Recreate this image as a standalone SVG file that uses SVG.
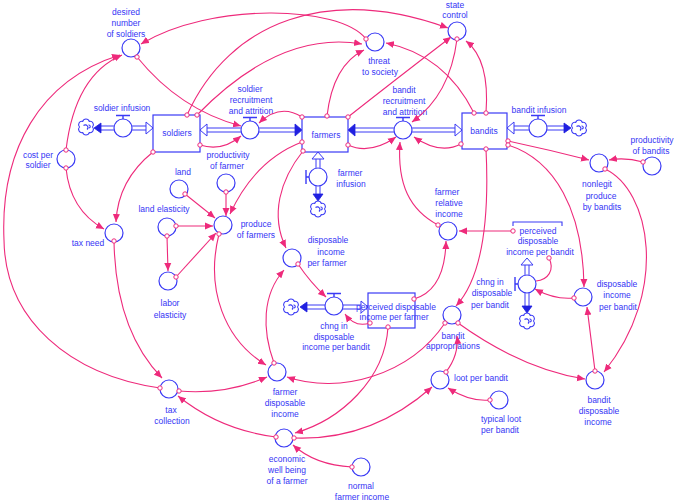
<svg xmlns="http://www.w3.org/2000/svg" width="675" height="501" viewBox="0 0 675 501">
<defs>
<style>
.t{font-family:"Liberation Sans",Arial,sans-serif;font-size:8.5px;fill:#3535f5;text-anchor:middle}
.tl{text-anchor:start}
.aux{fill:#fff;stroke:#3a3af5;stroke-width:1.2}
.stock{fill:#fff;stroke:#3a3af5;stroke-width:1.2}
.pipe{fill:none;stroke:#3a3af5;stroke-width:1}
.ln{fill:none;stroke:#ee2a7b;stroke-width:1.1;marker-start:url(#tail);marker-end:url(#head)}
.ln2{fill:none;stroke:#ee2a7b;stroke-width:1.1;marker-start:url(#tail)}
.fa{fill:#2020e0;stroke:#2020e0;stroke-width:0.8}
.ha{fill:#fff;stroke:#3a3af5;stroke-width:1}
.cl{fill:#fff;stroke:#3a3af5;stroke-width:1.1}
.hd{fill:none;stroke:#3a3af5;stroke-width:1.4}
</style>
<marker id="head" markerUnits="userSpaceOnUse" markerWidth="10" markerHeight="8" refX="8" refY="4" orient="auto"><path d="M0,0.5 L8,4 L0,7.5z" fill="#ee2a7b"/></marker>
<marker id="tail" markerUnits="userSpaceOnUse" markerWidth="7" markerHeight="7" refX="3.5" refY="3.5"><circle cx="3.5" cy="3.5" r="2.2" fill="#fff" stroke="#ee2a7b" stroke-width="1"/></marker>
<g id="cloud"><path class="cl" d="M6.5,0 A3.4,3.4 0 0 1 3.25,5.63 A3.4,3.4 0 0 1 -3.25,5.63 A3.4,3.4 0 0 1 -6.5,0 A3.4,3.4 0 0 1 -3.25,-5.63 A3.4,3.4 0 0 1 3.25,-5.63 A3.4,3.4 0 0 1 6.5,0Z"/><path class="cl" d="M-2.5,-1.5 A2.5,2.5 0 1 1 1,2.5 M2.5,-2 A1.5,1.5 0 0 1 3,1" fill="none"/></g>
</defs>

<g id="flows">
<use href="#cloud" x="86" y="127"/>
<path class="pipe" d="M101,126 H114 M101,130 H114 M132,126 H146 M132,130 H146"/>
<polygon class="fa" points="94,128 101,123 101,133"/>
<polygon class="ha" points="153,128 146,122 146,134"/>
<path class="pipe" d="M207,128 H241 M207,132 H241 M259,128 H295 M259,132 H295"/>
<polygon class="ha" points="200,130 207,124 207,136"/>
<polygon class="fa" points="302,130 295,124 295,136"/>
<path class="pipe" d="M355,128 H394 M355,132 H394 M412,128 H455 M412,132 H455"/>
<polygon class="fa" points="348,130 355,124 355,136"/>
<polygon class="ha" points="462,130 455,124 455,136"/>
<path class="pipe" d="M514,126 H529 M514,130 H529 M547,126 H564 M547,130 H564"/>
<polygon class="ha" points="507,128 514,122 514,134"/>
<polygon class="fa" points="571,128 564,123 564,133"/>
<use href="#cloud" x="579" y="128"/>
<path class="pipe" d="M316,159 V168 M320,159 V168 M316,186 V194 M320,186 V194"/>
<polygon class="ha" points="318,152 312,159 324,159"/>
<polygon class="fa" points="318,201 313,194 323,194"/>
<use href="#cloud" x="318" y="209"/>
<use href="#cloud" x="291" y="307"/>
<path class="pipe" d="M307,305 H325 M307,309 H325 M343,305 H361 M343,309 H361"/>
<polygon class="fa" points="300,307 307,302 307,312"/>
<polygon class="ha" points="368,307 361,301 361,313"/>
<path class="pipe" d="M525,265 V275 M529,265 V275 M525,293 V306 M529,293 V306"/>
<polygon class="ha" points="527,258 521,265 533,265"/>
<polygon class="fa" points="527,313 522,306 532,306"/>
<use href="#cloud" x="527" y="321"/>
</g>

<g id="desired_number_of_soldiers"><circle class="aux" cx="131" cy="48" r="9"/><text class="t" x="126" y="15">desired</text><text class="t" x="126" y="26">number</text><text class="t" x="126" y="37">of soldiers</text></g>
<g id="threat_to_society"><circle class="aux" cx="375" cy="42" r="9"/><text class="t" x="379" y="64">threat</text><text class="t" x="380" y="75">to society</text></g>
<g id="state_control"><circle class="aux" cx="457" cy="31" r="9"/><text class="t" x="455" y="8">state</text><text class="t" x="455" y="18">control</text></g>
<g id="soldier_infusion"><circle class="aux" cx="123" cy="128" r="9"/><path class="hd" d="M116,115.5 H130 M123,115.5 V119"/><text class="t" x="122" y="111">soldier infusion</text></g>
<g id="soldiers"><rect class="stock" x="153" y="115" width="47" height="37"/><text class="t" x="177" y="136">soldiers</text></g>
<g id="soldier_recruitment_and_attrition"><circle class="aux" cx="250" cy="130" r="9"/><path class="hd" d="M243,117.5 H257 M250,117.5 V121"/><text class="t" x="250" y="92">soldier</text><text class="t" x="251" y="103">recruitment</text><text class="t" x="251" y="114">and attrition</text></g>
<g id="farmers"><rect class="stock" x="302" y="117" width="46" height="35"/><text class="t" x="326" y="138">farmers</text></g>
<g id="bandit_recruitment_and_attrition"><circle class="aux" cx="403" cy="130" r="9"/><path class="hd" d="M396,117.5 H410 M403,117.5 V121"/><text class="t" x="404" y="93">bandit</text><text class="t" x="404" y="104">recruitment</text><text class="t" x="405" y="115">and attrition</text></g>
<g id="bandits"><rect class="stock" x="462" y="113" width="45" height="36"/><text class="t" x="484" y="134">bandits</text></g>
<g id="bandit_infusion"><circle class="aux" cx="538" cy="128" r="9"/><path class="hd" d="M531,115.5 H545 M538,115.5 V119"/><text class="t" x="539" y="113">bandit infusion</text></g>
<g id="farmer_infusion"><circle class="aux" cx="318" cy="177" r="9"/><path class="hd" d="M306,170 V184 M306,177 H309"/><text class="t" x="350" y="176">farmer</text><text class="t" x="351" y="187">infusion</text></g>
<g id="cost_per_soldier"><circle class="aux" cx="66" cy="159" r="9"/><text class="t" x="38" y="158">cost per</text><text class="t" x="38" y="168">soldier</text></g>
<g id="productivity_of_farmer"><circle class="aux" cx="226" cy="183" r="9"/><text class="t" x="228" y="158">productivity</text><text class="t" x="227" y="169">of farmer</text></g>
<g id="land"><circle class="aux" cx="179" cy="189" r="9"/><text class="t" x="183" y="175">land</text></g>
<g id="land_elasticity"><circle class="aux" cx="167" cy="227" r="9"/><text class="t" x="164" y="212">land elasticity</text></g>
<g id="produce_of_farmers"><circle class="aux" cx="223" cy="225" r="9"/><text class="t" x="256" y="227">produce</text><text class="t" x="256" y="238">of farmers</text></g>
<g id="labor_elasticity"><circle class="aux" cx="168" cy="281" r="9"/><text class="t" x="170" y="306">labor</text><text class="t" x="170" y="318">elasticity</text></g>
<g id="tax_need"><circle class="aux" cx="114" cy="233" r="9"/><text class="t" x="88" y="246">tax need</text></g>
<g id="disposable_income_per_farmer"><circle class="aux" cx="292" cy="258" r="9"/><text class="t" x="328" y="243">disposable</text><text class="t" x="331" y="255">income</text><text class="t" x="327" y="266">per farmer</text></g>
<g id="chng_in_disposable_income_per_bandit"><circle class="aux" cx="334" cy="306" r="9"/><path class="hd" d="M327,293.5 H341 M334,293.5 V297"/><text class="t" x="334" y="329">chng in</text><text class="t" x="334" y="340">disposable</text><text class="t" x="336" y="350">income per bandit</text></g>
<g id="perceived_disposable_income_per_farmer"><rect class="stock" x="368" y="293" width="47" height="35"/><text class="t" x="396" y="310">perceived disposable</text><text class="t" x="394" y="320">income per farmer</text></g>
<g id="farmer_relative_income"><circle class="aux" cx="448" cy="231" r="9"/><text class="t" x="447" y="195">farmer</text><text class="t" x="449" y="206">relative</text><text class="t" x="449" y="217">income</text></g>
<g id="perceived_disposable_income_per_bandit"><path class="hd" style="stroke-width:1.1" d="M513,226 V222 H562 V226"/><text class="t" x="538" y="234">perceived</text><text class="t" x="538" y="244">disposable</text><text class="t" x="540" y="255">income per bandit</text></g>
<g id="chng_in_disposable_per_bandit"><circle class="aux" cx="527" cy="284" r="9"/><path class="hd" d="M515,277 V291 M515,284 H518"/><text class="t" x="490" y="285">chng in</text><text class="t" x="492" y="296">disposable</text><text class="t" x="490" y="308">per bandit</text></g>
<g id="disposable_income_per_bandit"><circle class="aux" cx="583" cy="297" r="9"/><text class="t" x="617" y="287">disposable</text><text class="t" x="617" y="298">income</text><text class="t" x="618" y="310">per bandit</text></g>
<g id="nonlegit_produce_by_bandits"><circle class="aux" cx="599" cy="163" r="9"/><text class="t" x="597" y="187">nonlegit</text><text class="t" x="601" y="199">produce</text><text class="t" x="602" y="210">by bandits</text></g>
<g id="productivity_of_bandits"><circle class="aux" cx="652" cy="166" r="9"/><text class="t" x="652" y="143">productivity</text><text class="t" x="651" y="154">of bandits</text></g>
<g id="bandit_appropriations"><circle class="aux" cx="452" cy="315" r="9"/><text class="t" x="453" y="339">bandit</text><text class="t" x="453" y="349">appropriations</text></g>
<g id="loot_per_bandit"><circle class="aux" cx="440" cy="380" r="9"/><text class="t tl" x="454" y="381">loot per bandit</text></g>
<g id="typical_loot_per_bandit"><circle class="aux" cx="499" cy="400" r="9"/><text class="t" x="501" y="422">typical loot</text><text class="t" x="500" y="433">per bandit</text></g>
<g id="bandit_disposable_income"><circle class="aux" cx="595" cy="380" r="9"/><text class="t" x="599" y="403">bandit</text><text class="t" x="599" y="414">disposable</text><text class="t" x="598" y="425">income</text></g>
<g id="normal_farmer_income"><circle class="aux" cx="361" cy="467" r="9"/><text class="t" x="361" y="489">normal</text><text class="t" x="362" y="500">farmer income</text></g>
<g id="tax_collection"><circle class="aux" cx="169" cy="389" r="9"/><text class="t" x="171" y="413">tax</text><text class="t" x="172" y="424">collection</text></g>
<g id="farmer_disposable_income"><circle class="aux" cx="277" cy="372" r="9"/><text class="t" x="285" y="395">farmer</text><text class="t" x="285" y="406">disposable</text><text class="t" x="285" y="417">income</text></g>
<g id="economic_well_being_of_a_farmer"><circle class="aux" cx="284" cy="438" r="9"/><text class="t" x="287" y="462">economic</text><text class="t" x="287" y="473">well being</text><text class="t" x="287" y="484">of a farmer</text></g>

<g id="connectors">
<path class="ln" d="M137,57 Q180,110 241,126"/>
<path class="ln" d="M66,150 Q75,75 122,55"/>
<path class="ln" d="M66,168 Q70,210 104,229"/>
<path class="ln" d="M160,388 C70,375 5,320 4,240 C0,150 40,80 120,55"/>
<path class="ln" d="M366,39 C340,5 210,2 141,44"/>
<path class="ln" d="M187,115 C230,20 330,-15 448,28"/>
<path class="ln" d="M197,115 Q280,30 362,44"/>
<path class="ln" d="M327,116 Q333,65 364,50"/>
<path class="ln" d="M348,117 Q395,80 451,37"/>
<path class="ln" d="M457,39 Q450,95 412,122"/>
<path class="ln" d="M474,113 Q445,55 386,43"/>
<path class="ln" d="M486,113 Q490,60 466,41"/>
<path class="ln" d="M302,117 Q280,103 259,123"/>
<path class="ln" d="M200,145 Q222,152 241,136"/>
<path class="ln" d="M153,152 Q118,180 116,222"/>
<path class="ln" d="M114,241 C115,300 130,345 162,378"/>
<path class="ln" d="M179,391 Q225,395 267,377"/>
<path class="ln" d="M276,437 Q220,430 178,396"/>
<path class="ln" d="M185,194 L215,218"/>
<path class="ln" d="M226,192 L226,216"/>
<path class="ln" d="M176,226 L213,226"/>
<path class="ln" d="M167,236 L168,271"/>
<path class="ln" d="M176,277 L216,233"/>
<path class="ln" d="M302,142 Q255,160 230,214"/>
<path class="ln" d="M303,151 C280,180 270,215 286,248"/>
<path class="ln" d="M219,234 C205,290 225,340 266,365"/>
<path class="ln" d="M298,264 Q310,282 326,297"/>
<path class="ln" d="M274,363 C262,330 262,295 284,270"/>
<path class="ln" d="M370,323 Q355,328 345,314"/>
<path class="ln" d="M414,299 Q445,290 446,241"/>
<path class="ln" d="M388,327 C385,380 340,420 295,433"/>
<path class="ln" d="M513,231 L459,231"/>
<path class="ln" d="M438,225 C410,210 397,185 400,142"/>
<path class="ln" d="M461,144 Q440,155 414,137"/>
<path class="ln" d="M348,145 Q370,155 396,137"/>
<path class="ln" d="M508,141 Q550,150 589,160"/>
<path class="ln" d="M643,162 Q625,157 609,160"/>
<path class="ln" d="M605,169 C650,190 670,290 604,372"/>
<path class="ln" d="M508,145 C555,160 583,210 584,287"/>
<path class="ln" d="M595,371 L587,307"/>
<path class="ln" d="M574,298 Q555,300 535,289"/>
<path class="ln2" d="M549,258 C555,270 548,280 536,281"/>
<path class="ln" d="M486,149 C490,230 480,280 456,306"/>
<path class="ln" d="M458,323 Q522,369 585,379"/>
<path class="ln" d="M445,323 C410,375 340,395 287,377"/>
<path class="ln" d="M446,372 Q459,355 457,336"/>
<path class="ln" d="M294,438 Q371,441 432,387"/>
<path class="ln" d="M490,400 Q470,402 448,388"/>
<path class="ln" d="M352,467 Q315,465 293,445"/>
</g>
</svg>
